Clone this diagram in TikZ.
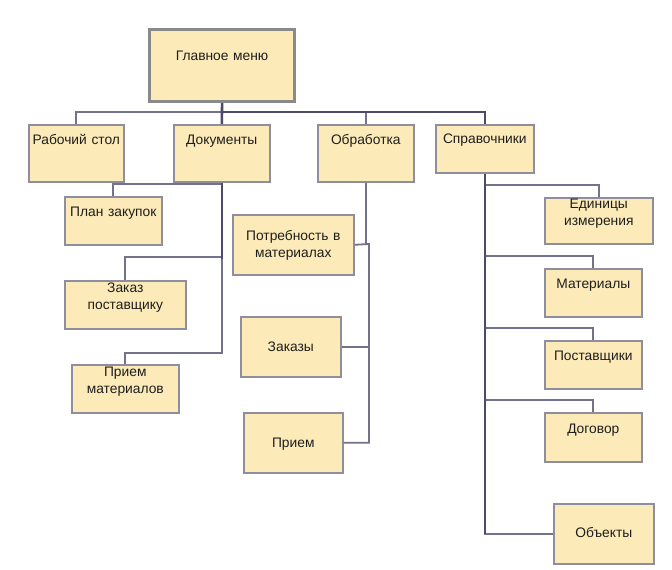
\documentclass[tikz,border=0pt]{standalone}
\usepackage{fontspec}
\setmainfont{Liberation Sans}
\usetikzlibrary{calc}

\definecolor{boxfill}{HTML}{FCEAB8}
\definecolor{boxline}{HTML}{8E8E9E}
\definecolor{mainline}{HTML}{8A8A8A}
\definecolor{linkline}{HTML}{72728C}
\definecolor{trunkline}{HTML}{4B4B69}
\definecolor{textcol}{HTML}{1E1E1E}

\tikzset{
	menubox/.style n args={3}{draw=boxline, fill=boxfill, line width=1.6pt,
		anchor=north west, inner xsep=0pt, inner ysep=0pt,
		text width=#1pt, align=center, text height=#2pt, text depth=#3pt,
		font=\fontsize{13.8}{16.2}\selectfont, text=textcol},
	link/.style={draw=linkline, line width=1.8pt},
	trunk/.style={draw=trunkline, line width=2.6pt},
}

\begin{document}
\begin{tikzpicture}[x=1pt, y=1pt]
		\useasboundingbox (0,0) rectangle (672,-570);

		% Main menu and the top row
		\node[menubox={145}{31}{41}, line width=3.2pt, draw=mainline] (main) at (148,-28) {Главное меню};
		\node[menubox={95}{20}{37}] (rab) at (28,-124) {Рабочий стол};
		\node[menubox={96}{20}{37}] (dok) at (173,-124) {Документы};
		\node[menubox={96}{20}{37}] (obr) at (317,-124) {Обработка};
		\node[menubox={98}{19}{29}] (spr) at (435,-124) {Справочники};

		% Documents
		\node[menubox={97}{20}{28}] (plan) at (64,-196) {План закупок};
		\node[menubox={121}{12}{36}] (zakaz) at (64,-280) {Заказ\\поставщику};
		\node[menubox={107}{12}{36}] (priemm) at (71,-364) {Прием\\материалов};

		% Processing
		\node[menubox={121}{26}{34}] (potr) at (232,-214) {Потребность в\\материалах};
		\node[menubox={100}{35}{25}] (zakazy) at (240,-316) {Заказы};
		\node[menubox={99}{35}{25}] (priem) at (243,-412) {Прием};

		% Reference books
		\node[menubox={108}{11}{35}] (edin) at (544,-197) {Единицы\\измерения};
		\node[menubox={97}{20}{28}] (mat) at (544,-268) {Материалы};
		\node[menubox={97}{20}{28}] (post) at (544,-340) {Поставщики};
		\node[menubox={97}{21}{28}] (dog) at (544,-412) {Договор};
		\node[menubox={100}{34}{26}] (obj) at (553,-503) {Объекты};

		% Draw the lines
		\coordinate (bus) at (220.5,-112);
		\draw[link] (rab.north) |- (bus);
		\draw[link] (obr.north) -- (obr.north |- bus);
		\draw[trunk] (bus) -| (spr.north);
		\draw[trunk] (main.south) -- (dok.north);

		\foreach \n/\d in {plan/12, zakaz/23, priemm/11}
		\draw[link] (\n.north) -- ++(0,\d) -| (dok.south);
		\draw[trunk] (dok.south) -- ++(0,-76);

		\coordinate (obrbus) at (369,-244);
		\draw[link] (obr.south) -- (obr.south |- obrbus);
		\draw[link] (potr.east) -- (obrbus) |- (priem.east);
		\draw[link] (zakazy.east) -- (obrbus |- zakazy.east);

		\foreach \n in {edin, mat, post, dog}
		\draw[link] (\n.north) -- ++(0,12) -| (spr.south);
		\draw[link] (obj.west) -| (spr.south);
		\draw[trunk] (spr.south) -- (spr.south |- obj.west);
      \end{tikzpicture}
\end{document}
